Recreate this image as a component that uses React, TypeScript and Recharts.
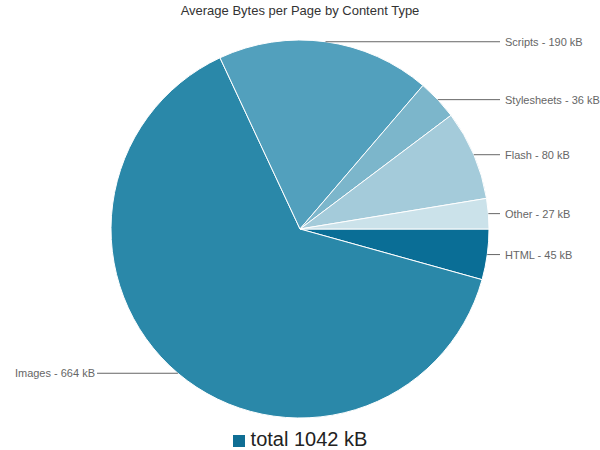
import { PieChart, Pie, Cell, Legend } from 'recharts';

const contentTypes = ['HTML', 'Images', 'Scripts', 'Stylesheets', 'Flash', 'Other'];
const bytesKb = [45, 664, 190, 36, 80, 27];
const sliceColors = ['#0a6e96', '#2a88a9', '#52a0bd', '#7cb6cb', '#a4cbda', '#cbe2ea'];

const data = contentTypes.map((name, i) => ({ name, value: bytesKb[i] }));
const total = bytesKb.reduce((a, b) => a + b, 0);

const RADIAN = Math.PI / 180;
const FONT = '"Liberation Sans", Arial, Helvetica, sans-serif';

function renderLabel(props: any) {
    const { cx, cy, midAngle, outerRadius, name, value } = props;
    const x = cx + outerRadius * Math.cos(-midAngle * RADIAN);
    const y = cy + outerRadius * Math.sin(-midAngle * RADIAN);
    const right = x >= cx;
    const lineEnd = right ? 500 : 97;
    const textX = right ? 505 : 95;
    return (
        <g>
            <line x1={x} y1={y} x2={lineEnd} y2={y} stroke="#666" strokeWidth={1} />
            <text
                x={textX}
                y={y}
                fill="#666"
                fontSize={11}
                fontFamily={FONT}
                textAnchor={right ? 'start' : 'end'}
                dominantBaseline="central"
            >
                {`${name} - ${value} kB`}
            </text>
        </g>
    );
}

function TotalLegend() {
    return (
        <div
            style={{
                display: 'flex',
                alignItems: 'center',
                justifyContent: 'center',
                fontFamily: FONT,
                fontSize: 20,
                color: '#222',
            }}
        >
            <span
                style={{
                    display: 'inline-block',
                    width: 12,
                    height: 12,
                    background: '#0f6e94',
                    marginRight: 6,
                    marginTop: 2,
                }}
            />
            total {total} kB
        </div>
    );
}

export default function App() {
    return (
        <div style={{ position: 'absolute', left: 0, top: 0, width: 600, height: 450, background: '#fff' }}>
            <div
                style={{
                    position: 'absolute',
                    top: 3,
                    left: 0,
                    width: 600,
                    textAlign: 'center',
                    fontFamily: FONT,
                    fontSize: 13,
                    color: '#333',
                }}
            >
                Average Bytes per Page by Content Type
            </div>
            <PieChart width={600} height={450} margin={{ top: 0, right: 0, bottom: 0, left: 0 }}>
                <Pie
                    data={data}
                    dataKey="value"
                    nameKey="name"
                    cx={300}
                    cy={229}
                    outerRadius={189}
                    startAngle={0}
                    endAngle={-360}
                    stroke="#fff"
                    strokeWidth={1}
                    label={renderLabel}
                    labelLine={false}
                    isAnimationActive={false}
                >
                    {data.map((d, i) => (
                        <Cell key={d.name} fill={sliceColors[i]} />
                    ))}
                </Pie>
                <Legend
                    verticalAlign="bottom"
                    content={() => <TotalLegend />}
                    wrapperStyle={{ position: 'absolute', left: 0, width: 600, top: 428, bottom: 'auto' }}
                />
            </PieChart>
        </div>
    );
}
